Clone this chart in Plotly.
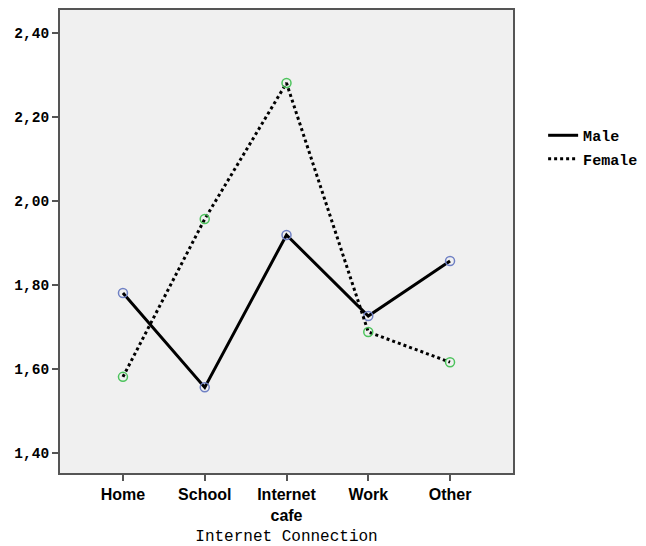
import plotly.graph_objects as go

categories = ["Home", "School", "Internet cafe", "Work", "Other"]
tick_labels = ["Home", "School", "Internet<br>cafe", "Work", "Other"]
male = [1.781, 1.556, 1.919, 1.726, 1.857]
female = [1.581, 1.957, 2.281, 1.688, 1.616]
y_ticks = [1.40, 1.60, 1.80, 2.00, 2.20, 2.40]

fig = go.Figure()
fig.add_trace(go.Scatter(
    x=categories, y=male, name="Male", mode="lines+markers", showlegend=False,
    line=dict(color="black", width=3),
    marker=dict(symbol="circle-open", size=9, color="#6f80c4", line=dict(width=1.5)),
))
fig.add_trace(go.Scatter(
    x=categories, y=female, name="Female", mode="lines+markers", showlegend=False,
    line=dict(color="black", width=3, dash="dot"),
    marker=dict(symbol="circle-open", size=9, color="#4cc35c", line=dict(width=1.5)),
))
# legend entries (lines only, as in the reference)
fig.add_trace(go.Scatter(x=[None], y=[None], name="Male", mode="lines",
                         legendgroup="m", line=dict(color="black", width=3)))
fig.add_trace(go.Scatter(x=[None], y=[None], name="Female", mode="lines",
                         legendgroup="f", line=dict(color="black", width=3, dash="dot")))

fig.update_layout(
    width=638, height=538,
    margin=dict(l=52, r=133, t=2, b=73, autoexpand=False),
    paper_bgcolor="white", plot_bgcolor="#f0f0f0",
    separators=",.",
    showlegend=True,
    legend=dict(x=1.0665, y=0.7645, xanchor="left", yanchor="top",
                font=dict(family="Liberation Mono", size=15, color="black", weight="bold"),
                bgcolor="rgba(0,0,0,0)", tracegroupgap=1, itemwidth=30),
    xaxis=dict(
        type="category", range=[-0.77, 4.77], automargin=False,
        tickvals=categories, ticktext=tick_labels,
        ticks="outside", ticklen=6, tickcolor="#555", tickwidth=1.5,
        showgrid=False, zeroline=False,
        showline=True, linecolor="#555", linewidth=2, mirror=True,
        tickfont=dict(family="Liberation Sans", size=16, color="black", weight="bold"),
        title=dict(text="Internet Connection", standoff=13,
                   font=dict(family="Liberation Mono", size=16, color="black")),
    ),
    yaxis=dict(
        range=[1.352, 2.455], tickvals=y_ticks, tickformat=".2f", automargin=False,
        ticks="outside", ticklen=6, tickcolor="#555", tickwidth=1.5,
        showgrid=False, zeroline=False,
        showline=True, linecolor="#555", linewidth=2, mirror=True,
        tickfont=dict(family="Liberation Mono", size=14.5, color="black", weight="bold"),
    ),
)

fig.write_html("out.html")
